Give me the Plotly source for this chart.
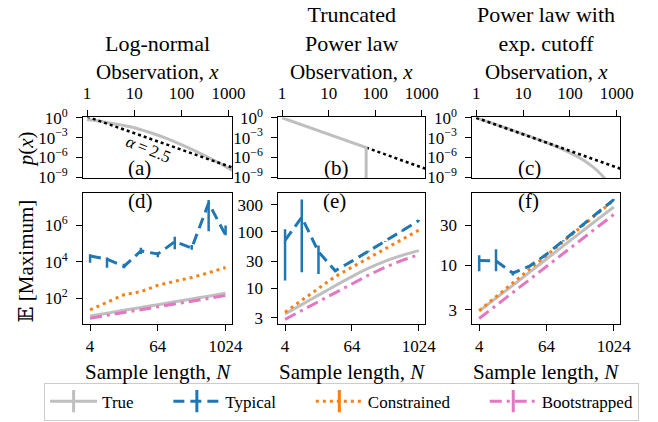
import plotly.graph_objects as go

W, H = 658, 422

# ---------------- top row: probability densities ----------------
obs_lognormal = [1, 2, 5, 10, 20, 50, 100, 200, 500, 1000, 1200]
pdf_lognormal = [0.56, 0.29, 0.085, 0.032, 0.0072, 7.0e-4, 8.4e-5, 9.2e-6, 3.5e-7, 2.2e-8, 1.05e-8]

obs_truncated = [1, 64, 64]
pdf_truncated = [1.0, 3.05e-5, 1e-12]

obs_cutoff = [1, 2, 5, 10, 20, 50, 100, 200, 300, 400, 500, 600, 700]
pdf_cutoff = [0.99, 0.186, 0.020, 3.57e-3, 6.1e-4, 4.9e-5, 5.4e-6, 3.45e-7,
              4.4e-8, 7.5e-9, 1.5e-9, 3.3e-10, 7.6e-11]

# reference power law, alpha = 2.5
pl_obs_a = [1, 1200]
pl_pdf_a = [1.5, 3.0e-8]
pl_obs_b = [64, 1200]
pl_pdf_b = [3.05e-5, 2.0e-8]
pl_obs_c = [1, 1200]
pl_pdf_c = [1.0, 2.0e-8]

# ---------------- bottom row: expected maximum vs sample length ----------------
N = [4, 8, 16, 32, 64, 128, 256, 512, 1024]

# (d) log-normal
d_true = [10.5, 15.0, 21.6, 30.9, 44.3, 63.5, 91, 130, 186]
d_typ = [21000, 14000, 5600, 40000, 27000, 1.3e5, 58000, 1.7e7, 3.0e5]
d_typ_hi = [26000, 17500, 8000, 59000, 35000, 2.4e5, 85000, 2.5e7, 1.0e6]
d_typ_lo = [9000, 4800, 4500, 27000, 18000, 49000, 47000, 4.9e5, 2.9e5]
d_con = [23, 62, 155, 230, 515, 850, 1380, 2500, 4900]
d_boot = [8, 11.5, 16.4, 23.4, 33.5, 48, 69, 98, 140]

# (e) truncated power law
e_true = [3.5, 5.1, 7.5, 11, 16, 22.5, 30, 38, 46]
e_typ = [70, 179, 44, 20.3, 30, 45, 67, 103, 157]
e_typ_hi = [110, 370, 57, 21.5, 31, 46, 68, 105, 160]
e_typ_lo = [13.7, 19, 17.7, 19.2, 29, 44, 66, 101, 154]
e_con = [3.75, 6.1, 9.9, 16, 23.4, 34, 50, 73, 106]
e_boot = [2.8, 4.0, 5.8, 8.3, 12, 17, 23.5, 31, 39]

# (f) power law with exponential cutoff
f_true = [2.87, 4.1, 5.8, 8.3, 11.9, 17, 24.2, 34.5, 49]
f_typ = [11.4, 11.3, 8.1, 9.8, 13.5, 19.5, 28.5, 41, 60]
f_typ_hi = [13.2, 15.5, 8.6, 10.1, 13.8, 19.8, 28.8, 41.5, 60.5]
f_typ_lo = [8.5, 8.5, 7.6, 9.5, 13.2, 19.2, 28.2, 40.5, 59.5]
f_con = [2.92, 4.25, 6.2, 9.0, 13.1, 19.1, 27.8, 40.5, 59]
f_boot = [2.35, 3.35, 4.77, 6.8, 9.7, 13.8, 19.7, 28, 40]

col_titles = ["Log-normal", "Truncated<br>Power law", "Power law with<br>exp. cutoff"]
top_ticks = [1, 10, 100, 1000]
pdf_ticks = [1, 1e-3, 1e-6, 1e-9]
pdf_ticktext = ["10<sup>0</sup>", "10<sup>\u22123</sup>", "10<sup>\u22126</sup>", "10<sup>\u22129</sup>"]
N_ticks = [4, 64, 1024]
legend_names = ["True", "Typical", "Constrained", "Bootstrapped"]

GRAY = "#bfbfbf"
BLUE = "#1f77b4"
ORANGE = "#ff7f0e"
PINK = "#e377c2"
FONT = "'Liberation Serif', 'Times New Roman', 'DejaVu Serif', serif"

DASH_TYP = "11px,6px"
DASH_CON = "3px,4px"
DASH_BOOT = "12px,5px,3px,5px"

fig = go.Figure()

# column geometry in pixels
cols = [(85, 237), (284, 434), (482, 633)]
top_row = (111, 175)
bot_row = (191, 328)


def px_x(p):
    return p / W


def px_y(p):
    return 1 - p / H


def line(x, y, xa, ya, color, width, dash="solid", shape="linear"):
    fig.add_trace(go.Scatter(x=x, y=y, xaxis=xa, yaxis=ya, mode="lines",
                             line=dict(color=color, width=width, dash=dash, shape=shape),
                             showlegend=False, hoverinfo="skip"))


# top row curves
line(obs_lognormal, pdf_lognormal, "x", "y", GRAY, 3, shape="spline")
line(pl_obs_a, pl_pdf_a, "x", "y", "black", 2.5, dash="dot")
line(pl_obs_b, pl_pdf_b, "x2", "y2", "black", 2.5, dash="dot")
line(obs_truncated, pdf_truncated, "x2", "y2", GRAY, 3)
line(obs_cutoff, pdf_cutoff, "x3", "y3", GRAY, 3, shape="spline")
line(pl_obs_c, pl_pdf_c, "x3", "y3", "black", 2.5, dash="dot")

# bottom row curves
panels = [
    ("x4", "y4", d_true, d_typ, d_typ_hi, d_typ_lo, d_con, d_boot),
    ("x5", "y5", e_true, e_typ, e_typ_hi, e_typ_lo, e_con, e_boot),
    ("x6", "y6", f_true, f_typ, f_typ_hi, f_typ_lo, f_con, f_boot),
]
for xa, ya, tr, typ, hi, lo, con, boot in panels:
    line(N, tr, xa, ya, GRAY, 3, shape="spline")
    line(N, boot, xa, ya, PINK, 3, dash=DASH_BOOT)
    line(N, con, xa, ya, ORANGE, 3, dash=DASH_CON)
    fig.add_trace(go.Scatter(
        x=N, y=typ, xaxis=xa, yaxis=ya, mode="lines",
        line=dict(color=BLUE, width=3, dash=DASH_TYP),
        error_y=dict(type="data", symmetric=False,
                     array=[h - v for h, v in zip(hi, typ)],
                     arrayminus=[v - l for v, l in zip(typ, lo)],
                     color=BLUE, thickness=2.5, width=0),
        showlegend=False, hoverinfo="skip"))

# legend entries (trailing no-break spaces widen the gap between entries)
pad = "\u00a0" * 7
for k, (name, color, dash) in enumerate(zip(legend_names, [GRAY, BLUE, ORANGE, PINK],
                                             ["solid", DASH_TYP, DASH_CON, DASH_BOOT])):
    fig.add_trace(go.Scatter(
        x=[None], y=[None], xaxis="x4", yaxis="y4", mode="lines+markers",
        name=name + (pad if k < 3 else ""),
        line=dict(color=color, width=3, dash=dash),
        marker=dict(symbol="line-ns", size=16, line=dict(color=color, width=3))))

axis_common = dict(showline=True, linecolor="black", linewidth=1.2, mirror=True,
                   ticks="outside", ticklen=6, tickwidth=1.2, tickcolor="black",
                   ticklabelstandoff=5,
                   showgrid=False, zeroline=False, type="log",
                   tickfont=dict(family=FONT, size=17, color="black"))

layout = dict(width=W, height=H, margin=dict(l=0, r=0, t=0, b=0),
              paper_bgcolor="white", plot_bgcolor="white",
              font=dict(family=FONT, color="black"))

y_ranges = [[0.6, 7.76], [0.37, 2.675], [0.31, 1.85]]
y_ticks = [([1e2, 1e4, 1e6], ["10<sup>2</sup>", "10<sup>4</sup>", "10<sup>6</sup>"]),
           ([3, 10, 30, 100, 300], ["3", "10", "30", "100", "300"]),
           ([3, 10, 30], ["3", "10", "30"])]

for i, (x0, x1) in enumerate(cols):
    xdom = [px_x(x0), px_x(x1)]
    ti = "" if i == 0 else str(i + 1)
    bi = str(i + 4)
    layout["xaxis" + ti] = dict(axis_common, domain=xdom, anchor="y" + ti, side="top",
                                range=[-0.08, 3.08], tickvals=top_ticks,
                                ticktext=[str(t) for t in top_ticks])
    layout["yaxis" + ti] = dict(axis_common, domain=[px_y(top_row[1]), px_y(top_row[0])],
                                anchor="x" + ti, range=[-9.15, 0.05],
                                tickvals=pdf_ticks, ticktext=pdf_ticktext)
    layout["xaxis" + bi] = dict(axis_common, domain=xdom, anchor="y" + bi,
                                range=[0.482, 3.130], tickvals=N_ticks,
                                ticklabelstandoff=1,
                                ticktext=[str(t) for t in N_ticks])
    layout["yaxis" + bi] = dict(axis_common, domain=[px_y(bot_row[1]), px_y(bot_row[0])],
                                anchor="x" + bi, range=y_ranges[i],
                                tickvals=y_ticks[i][0], ticktext=y_ticks[i][1])

annotations = []


def note(text, x, y, size, angle=0):
    annotations.append(dict(text=text, x=px_x(x), y=px_y(y), xref="paper", yref="paper",
                            xanchor="center", yanchor="middle", showarrow=False,
                            textangle=angle, font=dict(family=FONT, size=size, color="black")))


centers = [(a + b) / 2 for a, b in cols]
note(col_titles[0], centers[0], 33, 22)
note(col_titles[1], centers[1], 18, 22)
note(col_titles[2], centers[2], 18, 22)
for c in centers:
    note("Observation, <i>x</i>", c, 63, 21)
    note("Sample length, <i>N</i>", c, 379, 21)
note("<i>p</i>(<i>x</i>)", 26, 144, 21, -90)
note("\U0001D53C [Maximum]", 26, 262, 21, -90)
for lab, x in zip(["(a)", "(b)", "(c)"], [142, 343, 540]):
    note(lab, x, 164, 21)
for lab, x in zip(["(d)", "(e)", "(f)"], [143, 341, 539]):
    note(lab, x, 199, 21)
note("<i>\u03b1</i>\u2009=\u20092.5", 152, 145, 17, 22)

layout["annotations"] = annotations
layout["legend"] = dict(orientation="h", x=px_x(45), y=px_y(390), xanchor="left", yanchor="top",
                        bordercolor="#cccccc", borderwidth=1, bgcolor="white", itemwidth=47,
                        font=dict(family=FONT, size=17, color="black"))

fig.update_layout(**layout)
fig.write_html("out.html")
